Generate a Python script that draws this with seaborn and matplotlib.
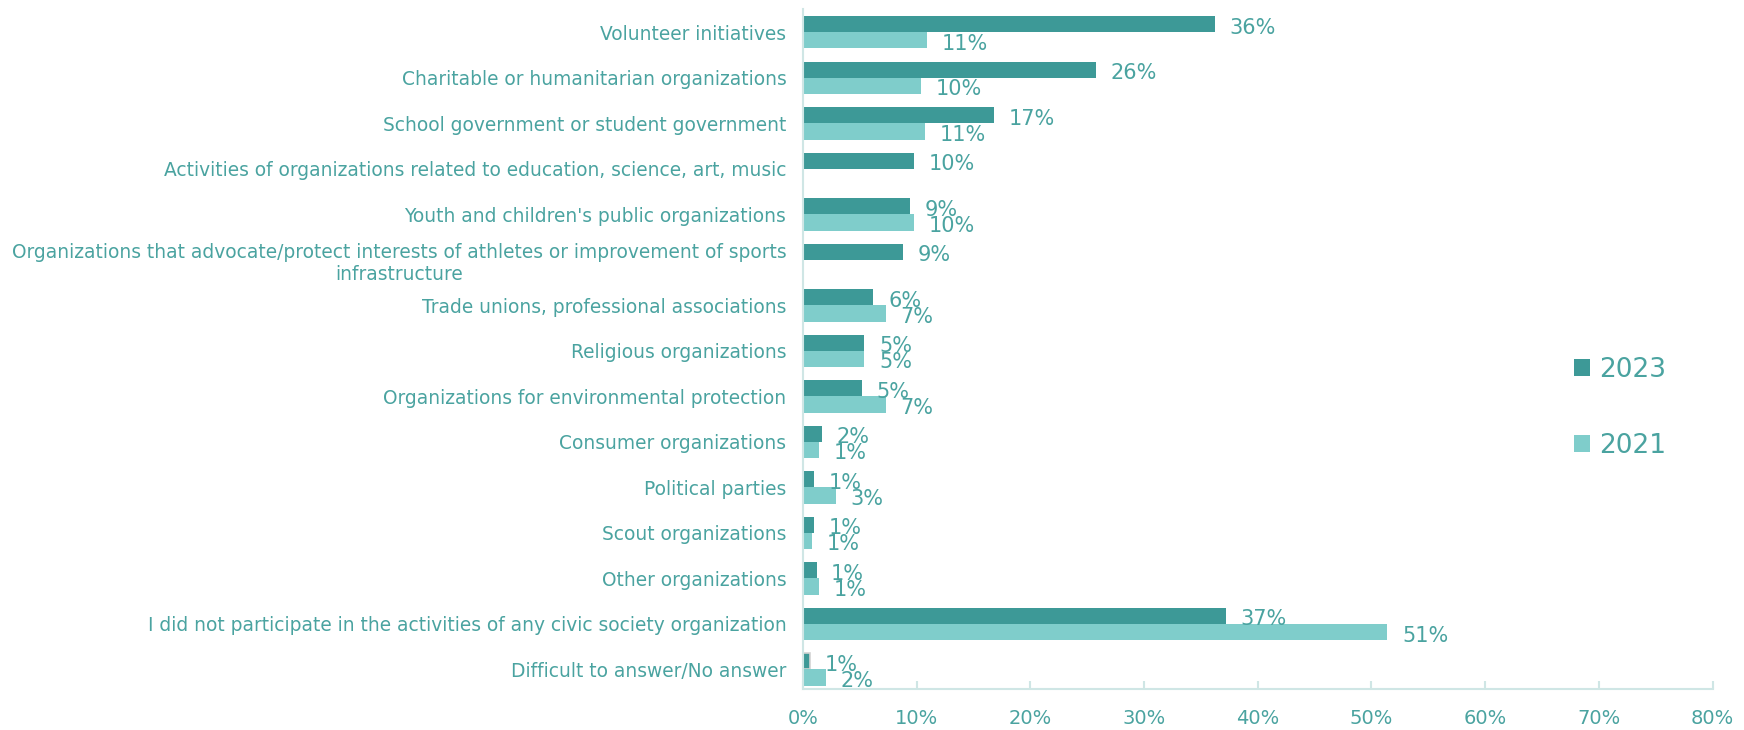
import numpy as np
import pandas as pd
import seaborn as sns
import matplotlib.pyplot as plt

categories = [
    "Volunteer initiatives",
    "Charitable or humanitarian organizations",
    "School government or student government",
    "Activities of organizations related to education, science, art, music",
    "Youth and children's public organizations",
    "Organizations that advocate/protect interests of athletes or improvement of sports\ninfrastructure",
    "Trade unions, professional associations",
    "Religious organizations",
    "Organizations for environmental protection",
    "Consumer organizations",
    "Political parties",
    "Scout organizations",
    "Other organizations",
    "I did not participate in the activities of any civic society organization",
    "Difficult to answer/No answer",
]
values_2023 = [36.2, 25.8, 16.8, 9.8, 9.4, 8.8, 6.2, 5.4, 5.2, 1.7, 1.0, 1.0, 1.2, 37.2, 0.6]
values_2021 = [10.9, 10.4, 10.7, np.nan, 9.8, np.nan, 7.3, 5.4, 7.3, 1.4, 2.9, 0.8, 1.4, 51.4, 2.0]
years = ["2023", "2021"]
x_ticks = [0, 10, 20, 30, 40, 50, 60, 70, 80]

DARK = "#3D9997"
LIGHT = "#7FCDCB"
TEXT = "#4AA3A0"
AXIS = "#CFE6E5"

df = pd.DataFrame({
    "category": categories * 2,
    "year": [years[0]] * len(categories) + [years[1]] * len(categories),
    "value": values_2023 + values_2021,
})

sns.set_theme(style="white")
plt.rcParams["font.family"] = ["DejaVu Sans"]

fig = plt.figure(figsize=(17.44, 7.3), dpi=100)
ax = fig.add_axes([0.4604, 0.0555, 0.5216, 0.932])

sns.barplot(data=df, y="category", x="value", hue="year", hue_order=years,
            order=categories, palette=[DARK, LIGHT], orient="h",
            width=0.71, gap=0, saturation=1, linewidth=0, ax=ax, legend=True)

# value labels to the right of each bar
for container in ax.containers:
    for bar in container:
        w = bar.get_width()
        if not np.isfinite(w) or w <= 0:
            continue
        y = bar.get_y() + bar.get_height() / 2
        ax.annotate(f"{int(w + 0.5)}%", xy=(w, y), xytext=(10.5, -2.5),
                    textcoords="offset points", ha="left", va="center",
                    fontsize=15, color=TEXT)

# thin grey outline on the smallest 2023 bar
last = ax.containers[0][len(categories) - 1]
last.set_edgecolor("#D3D3D3")
last.set_linewidth(1.2)

ax.set_xlim(0, 80)
ax.set_ylim(len(categories) - 0.56, -0.51)
ax.set_xticks(x_ticks)
ax.set_xticklabels([f"{t}%" for t in x_ticks])
ax.set_xlabel("")
ax.set_ylabel("")

ax.tick_params(axis="x", direction="in", length=6, width=1.5, color=AXIS,
               labelsize=14, labelcolor=TEXT, pad=14, bottom=True)
ax.tick_params(axis="y", length=0, labelsize=13.4, labelcolor=TEXT, pad=12)
for lbl in ax.get_yticklabels():
    lbl.set_multialignment("center")

for side in ["top", "right"]:
    ax.spines[side].set_visible(False)
for side in ["left", "bottom"]:
    ax.spines[side].set_color(AXIS)
    ax.spines[side].set_linewidth(1.5)

leg = ax.legend(loc="center left", bbox_to_anchor=(0.822, 0.414), frameon=False,
                fontsize=19, labelcolor=TEXT,
                handlelength=0.6, handleheight=0.6, handletextpad=0.35,
                labelspacing=1.9)

fig.savefig("out.png", dpi=100)
